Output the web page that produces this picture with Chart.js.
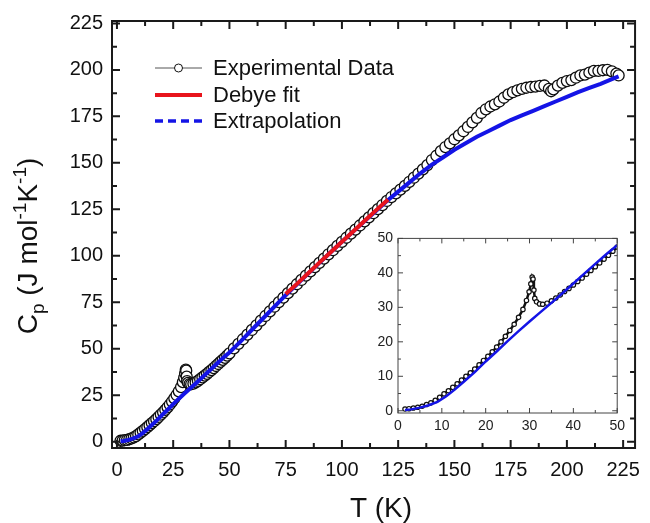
<!DOCTYPE html>
<html>
<head>
<meta charset="utf-8">
<script src="https://cdn.jsdelivr.net/npm/chart.js@4.4.1/dist/chart.umd.min.js"></script>
<style>
  body { margin: 0; background: #fff; }
  #wrap { position: relative; width: 650px; height: 523px; }
  #main { position: absolute; left: 0; top: 0; }
  #inset { position: absolute; left: 360px; top: 225px; }
</style>
</head>
<body>
<div id="wrap">
  <canvas id="main" width="650" height="523"></canvas>
  <canvas id="inset" width="270" height="211"></canvas>
</div>
<script>
// Dados experimentais (T em K, Cp em J/mol/K)
const expT = [1.6, 2.5, 3.5, 4.5, 5.5, 6.5, 7.5, 8.5, 9.5, 10.5, 11.5, 12.5, 13.5, 14.5, 15.5, 16.5, 17.5, 18.5, 19.5, 20.5,
    21.5, 22.5, 23.5, 24.5, 25.5, 26.5, 27.5, 28.5, 29.3, 29.9, 30.3, 30.6, 30.8, 31.0, 31.2, 31.6, 32.3, 33, 34, 35,
    36, 37, 38, 39, 40, 41, 42, 43, 44, 45, 46, 47, 48, 49, 50,
    52, 54, 56, 58, 60, 62, 64, 66, 68, 70, 72, 74, 76, 78, 80, 82, 84, 86, 88, 90, 92, 94, 96, 98, 100,
    102, 104, 106, 108, 110, 112, 114, 116, 118, 120, 122, 124, 126, 128, 130, 132, 134, 136, 138, 140,
    142, 144, 146, 148, 150, 152, 154, 156, 158, 160, 162, 164, 166, 168, 170, 172, 174, 176, 178, 180,
    182, 184, 186, 188, 190, 192, 193, 194, 196, 198, 200, 202, 204, 206, 208, 210, 212, 214, 216, 218, 220, 222, 223];
const expCp = [0.5, 0.6, 0.8, 1.0, 1.3, 1.8, 2.3, 3.0, 3.9, 4.9, 5.8, 6.8, 7.8, 8.9, 10.0, 11.0, 12.1, 13.3, 14.6, 15.8,
    17.1, 18.5, 20.0, 21.6, 23.3, 25.1, 27.1, 29.4, 32.0, 34.5, 36.8, 38.8, 38.2, 35.0, 32.6, 31.6, 31.0, 30.9, 31.2, 31.9,
    32.7, 33.6, 34.6, 35.5, 36.5, 37.5, 38.5, 39.6, 40.7, 41.8, 42.9, 44.0, 45.1, 46.3, 47.5,
    50.2, 52.6, 55.1, 57.6, 60.1, 62.6, 65.1, 67.6, 70.1, 72.6, 75.1, 77.5, 79.9, 82.3, 84.7, 87.0, 89.3, 91.6, 93.9, 96.2,
    98.5, 100.8, 103.0, 105.3, 107.5, 109.7, 111.9, 114.1, 116.3, 118.5, 120.7, 122.9, 125.1, 127.3, 129.5,
    131.6, 133.6, 135.6, 137.6, 139.8, 142.0, 144.2, 146.5, 148.8, 151.5, 153.8, 156.3, 158.5, 160.5, 162.7,
    164.8, 167.0, 169.3, 171.8, 174.2, 176.8, 178.8, 180.3, 181.5, 183.0, 185.0, 186.8, 188.0, 189.0, 189.8,
    190.4, 190.8, 191.0, 191.4, 191.6, 189.8, 188.5, 189.5, 191.5, 193.0, 194.0, 194.5, 195.8, 197.0, 197.5,
    198.5, 199.5, 199.5, 199.8, 200.0, 199.2, 198.0, 197.0];

// Ajuste de Debye (75 - 120 K)
const debyeT = [75, 80, 85, 90, 95, 100, 105, 110, 115, 120.5];
const debyeCp = [79.4, 84.9, 90.6, 96.3, 101.9, 107.5, 113.1, 118.7, 124.3, 130.3];

// Extrapolação
const extT = [1.6, 3, 5, 7, 9, 11, 13, 15, 17.5, 20, 22.5, 25, 27.5, 30, 32.5, 35, 37.5, 40, 42.5, 45, 47.5, 50,
    55, 60, 65, 70, 75, 80, 85, 90, 95, 100, 105, 110, 115, 120, 125, 130, 135, 140, 145, 150, 155, 160,
    165, 170, 175, 180, 185, 190, 195, 200, 205, 210, 215, 220, 223];
const extCp = [0.2, 0.4, 0.9, 1.6, 2.6, 4.2, 6.2, 8.4, 11.2, 14.3, 17.2, 20.2, 23.1, 25.9, 28.6, 31.3, 34.1, 36.9, 39.8, 42.6, 45.4, 48.0,
    54.0, 60.2, 66.4, 72.6, 78.8, 84.7, 90.5, 96.2, 101.9, 107.5, 113.0, 118.5, 124.0, 129.5, 134.5, 139.5, 144.5, 149.0,
    153.0, 157.0, 160.5, 164.0, 167.0, 170.0, 173.0, 175.5, 178.0, 180.5, 183.0, 185.5, 188.0, 190.3, 192.5, 195.0, 196.5];

const xTicks = [0, 25, 50, 75, 100, 125, 150, 175, 200, 225];
const yTicks = [0, 25, 50, 75, 100, 125, 150, 175, 200, 225];
const insetXTicks = [0, 10, 20, 30, 40, 50];
const insetYTicks = [0, 10, 20, 30, 40, 50];

const FONT = "'Liberation Sans', Arial, sans-serif";
const RED = '#e8141c';
const BLUE = '#1414e6';

function pts(xs, ys, maxX) {
    const out = [];
    xs.forEach((x, i) => {
        if (maxX === undefined || x <= maxX) out.push({x: x, y: ys[i]});
    });
    return out;
}

// moldura com ticks para dentro nos quatro lados
function framePlugin(id, opt) {
    return {
        id: id,
        afterDraw(chart) {
            const ctx = chart.ctx;
            const a = chart.chartArea;
            const sx = chart.scales.x, sy = chart.scales.y;
            ctx.save();
            ctx.strokeStyle = opt.color;
            ctx.lineWidth = opt.width;
            ctx.strokeRect(a.left, a.top, a.right - a.left, a.bottom - a.top);
            const tick = (v, len, isX) => {
                if (isX) {
                    const p = sx.getPixelForValue(v);
                    ctx.beginPath();
                    ctx.moveTo(p, a.bottom); ctx.lineTo(p, a.bottom - len);
                    ctx.moveTo(p, a.top); ctx.lineTo(p, a.top + len);
                    ctx.stroke();
                } else {
                    const p = sy.getPixelForValue(v);
                    ctx.beginPath();
                    ctx.moveTo(a.left, p); ctx.lineTo(a.left + len, p);
                    ctx.moveTo(a.right, p); ctx.lineTo(a.right - len, p);
                    ctx.stroke();
                }
            };
            opt.xTicks.forEach((v, i) => {
                tick(v, opt.major, true);
                if (i < opt.xTicks.length - 1) tick((v + opt.xTicks[i + 1]) / 2, opt.minor, true);
            });
            opt.yTicks.forEach((v, i) => {
                tick(v, opt.major, false);
                if (i < opt.yTicks.length - 1) tick((v + opt.yTicks[i + 1]) / 2, opt.minor, false);
            });
            ctx.restore();
        }
    };
}

// titulos dos eixos e legenda
const textPlugin = {
    id: 'textos',
    afterDraw(chart) {
        const ctx = chart.ctx;
        ctx.save();
        ctx.fillStyle = '#111';
        ctx.textBaseline = 'alphabetic';

        // T (K)
        ctx.font = '28px ' + FONT;
        ctx.textAlign = 'center';
        ctx.fillText('T (K)', 381, 517);

        // Cp (J mol-1 K-1)
        const parts = [
            {t: 'C', s: 28, dy: 0},
            {t: 'p', s: 19, dy: 7},
            {t: ' (J mol', s: 28, dy: 0},
            {t: '-1', s: 19, dy: -11},
            {t: 'K', s: 28, dy: 0},
            {t: '-1', s: 19, dy: -11},
            {t: ')', s: 28, dy: 0}
        ];
        let total = 0;
        parts.forEach(p => { ctx.font = p.s + 'px ' + FONT; p.w = ctx.measureText(p.t).width; total += p.w; });
        ctx.translate(37, 246);
        ctx.rotate(-Math.PI / 2);
        ctx.textAlign = 'left';
        let x = -total / 2;
        parts.forEach(p => {
            ctx.font = p.s + 'px ' + FONT;
            ctx.fillText(p.t, x, p.dy);
            x += p.w;
        });
        ctx.setTransform(1, 0, 0, 1, 0, 0);

        // legenda
        ctx.font = '22px ' + FONT;
        ctx.textAlign = 'left';
        ctx.strokeStyle = '#555';
        ctx.lineWidth = 1;
        ctx.beginPath(); ctx.moveTo(155, 68); ctx.lineTo(202, 68); ctx.stroke();
        ctx.beginPath(); ctx.arc(178.5, 68, 4, 0, Math.PI * 2);
        ctx.fillStyle = '#fff'; ctx.fill();
        ctx.strokeStyle = '#111'; ctx.stroke();
        ctx.fillStyle = '#111';
        ctx.fillText('Experimental Data', 213, 75);

        ctx.strokeStyle = RED; ctx.lineWidth = 4;
        ctx.beginPath(); ctx.moveTo(155, 95); ctx.lineTo(202, 95); ctx.stroke();
        ctx.fillText('Debye fit', 213, 102);

        ctx.strokeStyle = BLUE; ctx.lineWidth = 3.5;
        ctx.setLineDash([8, 5]);
        ctx.beginPath(); ctx.moveTo(155, 121); ctx.lineTo(203, 121); ctx.stroke();
        ctx.setLineDash([]);
        ctx.fillText('Extrapolation', 213, 128);
        ctx.restore();
    }
};

function fixedTicks(list) {
    return s => { s.ticks = list.map(v => ({value: v})); };
}

const mainChart = new Chart(document.getElementById('main').getContext('2d'), {
    type: 'scatter',
    data: {
        datasets: [
            {
                label: 'Debye fit',
                data: pts(debyeT, debyeCp),
                showLine: true, borderColor: RED, borderWidth: 4, pointRadius: 0
            },
            {
                label: 'Extrapolation',
                data: pts(extT, extCp),
                showLine: true, borderColor: BLUE, borderWidth: 4, pointRadius: 0
            },
            {
                label: 'Experimental Data',
                data: pts(expT, expCp),
                showLine: true, borderColor: '#222', borderWidth: 1.5,
                pointRadius: 5.5, pointBorderWidth: 1.3, pointBorderColor: '#0d0d0d', pointBackgroundColor: '#fff'
            }
        ]
    },
    options: {
        responsive: false,
        animation: false,
        layout: {padding: {top: 19, right: 8, left: 0, bottom: 0}},
        plugins: {legend: {display: false}, tooltip: {enabled: false}},
        scales: {
            x: {
                type: 'linear', min: -2.2, max: 230.3,
                grid: {display: false, drawTicks: false}, border: {display: false},
                afterBuildTicks: fixedTicks(xTicks),
                afterFit: s => { s.height = 75; },
                ticks: {font: {family: FONT, size: 20}, color: '#111', padding: 10, maxRotation: 0, autoSkip: false}
            },
            y: {
                type: 'linear', min: -3.4, max: 226.3,
                grid: {display: false, drawTicks: false}, border: {display: false},
                afterBuildTicks: fixedTicks(yTicks),
                afterFit: s => { s.width = 112; },
                ticks: {font: {family: FONT, size: 20}, color: '#111', padding: 9, autoSkip: false}
            }
        }
    },
    plugins: [framePlugin('moldura', {color: '#1a1a1a', width: 2, major: 8, minor: 5, xTicks: xTicks, yTicks: yTicks}), textPlugin]
});

const insetChart = new Chart(document.getElementById('inset').getContext('2d'), {
    type: 'scatter',
    data: {
        datasets: [
            {
                label: 'Extrapolation',
                data: pts(extT, extCp, 50.5),
                showLine: true, borderColor: BLUE, borderWidth: 2.5, pointRadius: 0
            },
            {
                label: 'Experimental Data',
                data: pts(expT, expCp, 50),
                showLine: true, borderColor: '#111', borderWidth: 2.5,
                pointRadius: 2.2, pointBorderWidth: 1.2, pointBorderColor: '#111', pointBackgroundColor: '#fff'
            }
        ]
    },
    options: {
        responsive: false,
        animation: false,
        layout: {padding: {top: 10, right: 7, left: 0, bottom: 0}},
        plugins: {legend: {display: false}, tooltip: {enabled: false}},
        scales: {
            x: {
                type: 'linear', min: 0, max: 50,
                grid: {display: false, drawTicks: false}, border: {display: false},
                afterBuildTicks: fixedTicks(insetXTicks),
                afterFit: s => { s.height = 23; },
                ticks: {font: {family: FONT, size: 14}, color: '#222', padding: 5, maxRotation: 0, autoSkip: false}
            },
            y: {
                type: 'linear', min: -0.65, max: 50,
                grid: {display: false, drawTicks: false}, border: {display: false},
                afterBuildTicks: fixedTicks(insetYTicks),
                afterFit: s => { s.width = 38; },
                ticks: {font: {family: FONT, size: 14}, color: '#222', padding: 5, autoSkip: false}
            }
        }
    },
    plugins: [framePlugin('moldura2', {color: '#444', width: 1, major: 5, minor: 3, xTicks: insetXTicks, yTicks: insetYTicks})]
});
</script>
</body>
</html>
